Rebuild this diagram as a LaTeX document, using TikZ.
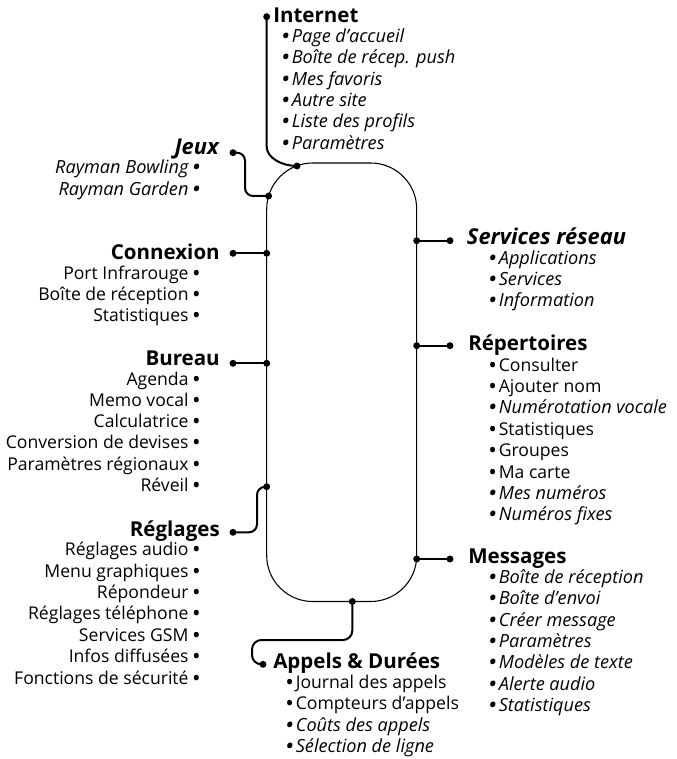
\documentclass[tikz,border=0pt]{standalone}
\usepackage{fontspec}
\setmainfont{Open Sans}
\newcommand{\bul}{{\bfseries •}}
\tikzset{
  rim/.style={line width=0.8pt},
  link/.style={line width=1.5pt, rounded corners=5pt},
  dot/.style={circle, fill=black, inner sep=0pt, minimum size=5.2pt},
  head/.style={font=\fontsize{15.4}{17}\selectfont\bfseries, inner sep=0pt},
  headi/.style={font=\fontsize{16.4}{18}\selectfont\bfseries\itshape, inner sep=0pt},
  item/.style={font=\fontsize{13.2}{15}\selectfont, inner sep=0pt},
  itemi/.style={font=\fontsize{13.6}{15}\selectfont\itshape, inner sep=0pt},
}
\begin{document}
\begin{tikzpicture}[x=0.75pt,y=-0.75pt]
\useasboundingbox (0,0) rectangle (677,759);
% rim
\draw[rim, rounded corners=34.5pt] (266.7,163) rectangle (416.7,601.5);
% junctions on rim
\node[dot] (iJ) at (297,166) {};
\node[dot] (jJ) at (268.6,196) {};
\node[dot] (cJ) at (266.7,253.3) {};
\node[dot] (bJ) at (266.7,363.3) {};
\node[dot] (rJ) at (266.7,486.7) {};
\node[dot] (aJ) at (352.3,601.5) {};
\node[dot] (sJ) at (416.7,240.7) {};
\node[dot] (pJ) at (416.7,345.7) {};
\node[dot] (mJ) at (416.7,559) {};
% head dots
\node[dot] (iD) at (266.7,16.7) {};
\node[dot] (jD) at (233,152.7) {};
\node[dot] (cD) at (233,253.3) {};
\node[dot] (bD) at (233,363.3) {};
\node[dot] (rD) at (233,532.3) {};
\node[dot] (aD) at (263,664.3) {};
\node[dot] (sD) at (450,240.7) {};
\node[dot] (pD) at (450,345.7) {};
\node[dot] (mD) at (450,559) {};
% connectors
\draw[link] (iD.center) -- (266.7,140) .. controls (266.7,158) and (282,166) .. (iJ.center);
\draw[link, rounded corners=6pt] (jD.center) -- (245,152.7) -- (245,196) -- (jJ.center);
\draw[link] (cD.center) -- (cJ.center);
\draw[link] (bD.center) -- (bJ.center);
\draw[link, rounded corners=6pt] (rJ.center) -- (257,487) -- (257,532.3) -- (rD.center);
\draw[link, rounded corners=7pt] (aJ.center) -- (352.3,640) -- (252,640) -- (252,664.3) -- (aD.center);
\draw[link] (sJ.center) -- (sD.center);
\draw[link] (pJ.center) -- (pD.center);
\draw[link] (mJ.center) -- (mD.center);
% heads
\node[head, anchor=base west] (iH) at (273,22.7) {Internet};
\node[headi, anchor=base east] (jH) at (219,155) {Jeux};
\node[head, anchor=base east] (cH) at (220,259) {Connexion};
\node[head, anchor=base east] (bH) at (220,365.7) {Bureau};
\node[head, anchor=base east] (rH) at (220,536) {Réglages};
\node[head, anchor=base west] (aH) at (273,668.3) {Appels \& Durées};
\node[headi, anchor=base west] (sH) at (466.7,244.3) {Services réseau};
\node[head, anchor=base west] (pH) at (468,350) {Répertoires};
\node[head, anchor=base west] (mH) at (468,563.5) {Messages};
% Internet items
\foreach \s/\t [count=\i] in {itemi/Page d'accueil, itemi/Boîte de récep. push, itemi/Mes favoris, itemi/Autre site, itemi/Liste des profils, itemi/Paramètres}
  \node[\s, anchor=base west] (iI\i) at (282,{42.7+(\i-1)*21.3}) {\bul\,\t};
% Jeux items
\foreach \s/\t [count=\i] in {itemi/Rayman Bowling, itemi/Rayman Garden}
  \node[\s, anchor=base east] (jI\i) at (200,{174+(\i-1)*21.3}) {\t\ \bul};
% Connexion items
\foreach \s/\t [count=\i] in {item/Port Infrarouge, item/Boîte de réception, item/Statistiques}
  \node[\s, anchor=base east] (cI\i) at (200,{279+(\i-1)*21.3}) {\t\ \bul};
% Bureau items
\foreach \s/\t [count=\i] in {item/Agenda, item/Memo vocal, item/Calculatrice, item/Conversion de devises, item/Paramètres régionaux, item/Réveil}
  \node[\s, anchor=base east] (bI\i) at (200,{385+(\i-1)*21.3}) {\t\ \bul};
% Reglages items
\foreach \s/\t [count=\i] in {item/Réglages audio, item/Menu graphiques, item/Répondeur, item/Réglages téléphone, item/Services GSM, item/Infos diffusées, item/Fonctions de sécurité}
  \node[\s, anchor=base east] (rI\i) at (200,{555.7+(\i-1)*21.4}) {\t\ \bul};
% Services reseau items
\foreach \s/\t [count=\i] in {itemi/Applications, itemi/Services, itemi/Information}
  \node[\s, anchor=base west] (sI\i) at (489,{264+(\i-1)*21}) {\bul\,\t};
% Repertoires items
\foreach \s/\t [count=\i] in {item/Consulter, item/Ajouter nom, itemi/Numérotation vocale, item/Statistiques, item/Groupes, item/Ma carte, itemi/Mes numéros, itemi/Numéros fixes}
  \node[\s, anchor=base west] (pI\i) at (489,{371+(\i-1)*21.4}) {\bul\,\t};
% Messages items
\foreach \s/\t [count=\i] in {itemi/Boîte de réception, itemi/Boîte d'envoi, itemi/Créer message, itemi/Paramètres, itemi/Modèles de texte, itemi/Alerte audio, itemi/Statistiques}
  \node[\s, anchor=base west] (mI\i) at (489,{583.3+(\i-1)*21.4}) {\bul\,\t};
% Appels items
\foreach \s/\t [count=\i] in {item/Journal des appels, item/Compteurs d'appels, itemi/Coûts des appels, itemi/Sélection de ligne}
  \node[\s, anchor=base west] (aI\i) at (286,{688+(\i-1)*21.5}) {\bul\,\t};
\end{tikzpicture}
\end{document}
